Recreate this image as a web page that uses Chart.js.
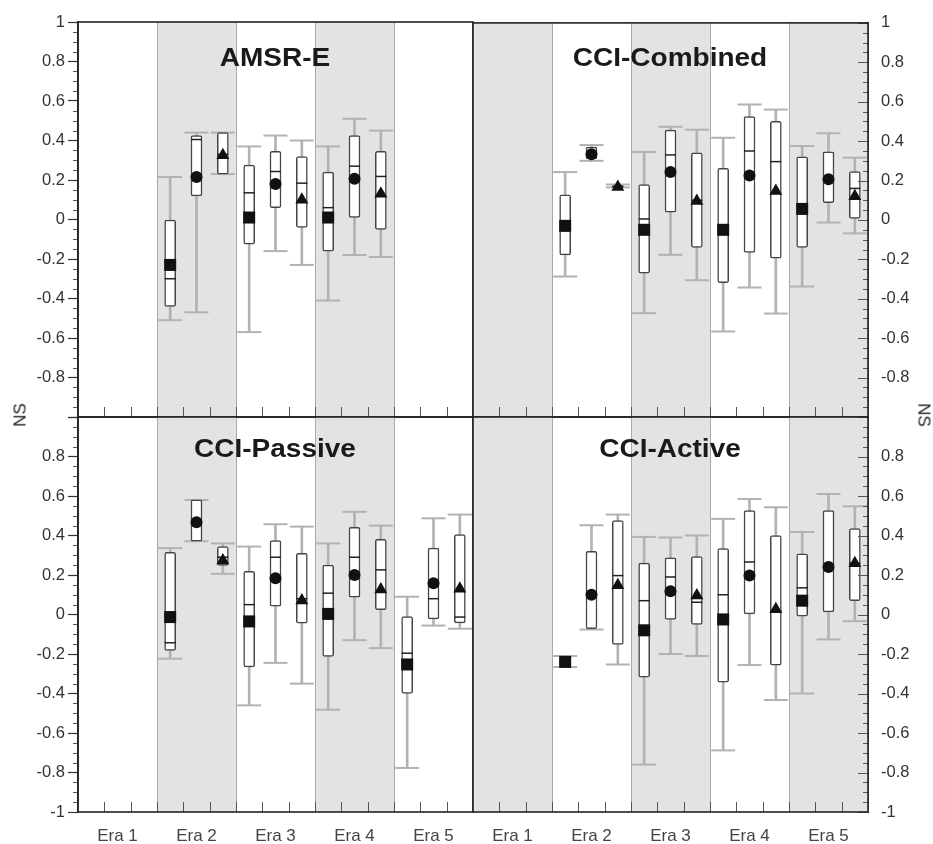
<!DOCTYPE html>
<html>
<head>
<meta charset="utf-8">
<script src="https://cdn.jsdelivr.net/npm/chart.js@4/dist/chart.umd.min.js"></script>
<style>
  html, body { margin: 0; padding: 0; background: #fff; }
  #wrap { position: relative; width: 933px; height: 844px; overflow: hidden; }
  canvas { position: absolute; left: 0; top: 0; }
  .title {
    position: absolute; white-space: nowrap; color: #1a1a1a;
    font: bold 25px "Liberation Sans", Arial, sans-serif; line-height: 25px;
    transform: translateX(-50%) scaleX(1.12);
  }
  .ns {
    position: absolute; white-space: nowrap; color: #222;
    font: 17px "Liberation Sans", Arial, sans-serif; line-height: 17px;
  }
</style>
</head>
<body>
<div id="wrap">
  <canvas id="c-amsr" width="933" height="844"></canvas>
  <canvas id="c-comb" width="933" height="844"></canvas>
  <canvas id="c-pass" width="933" height="844"></canvas>
  <canvas id="c-act" width="933" height="844"></canvas>
  <div class="title" style="left:275px;top:45px">AMSR-E</div>
  <div class="title" style="left:670px;top:45px">CCI-Combined</div>
  <div class="title" style="left:275px;top:436px">CCI-Passive</div>
  <div class="title" style="left:670px;top:436px">CCI-Active</div>
  <div class="ns" style="left:20px;top:415px;transform:translate(-50%,-50%) rotate(-90deg)">NS</div>
  <div class="ns" style="left:924px;top:415px;transform:translate(-50%,-50%) rotate(90deg)">NS</div>
</div>
<script>
// categories: 5 eras, 3 boxes (products) per era -> 15 slots per panel
const eraLabels = ['Era 1', 'Era 2', 'Era 3', 'Era 4', 'Era 5'];
const boxesPerEra = 3;
const n = null;

// AMSR-E
const amsrMin  = [n, n, n, -0.51, -0.47, 0.23, -0.57, -0.16, -0.23, -0.41, -0.18, -0.19, n, n, n];
const amsrQ1   = [n, n, n, -0.44, 0.12, 0.23, -0.125, 0.06, -0.04, -0.16, 0.01, -0.05, n, n, n];
const amsrMed  = [n, n, n, -0.30, 0.405, 0.33, 0.135, 0.243, 0.184, 0.06, 0.27, 0.218, n, n, n];
const amsrQ3   = [n, n, n, 0.0, 0.425, 0.44, 0.275, 0.345, 0.318, 0.24, 0.425, 0.345, n, n, n];
const amsrMax  = [n, n, n, 0.215, 0.44, 0.44, 0.37, 0.425, 0.40, 0.37, 0.51, 0.45, n, n, n];
const amsrMean = [n, n, n, -0.23, 0.215, 0.325, 0.01, 0.18, 0.10, 0.01, 0.206, 0.13, n, n, n];

// CCI-Combined
const combMin  = [n, n, n, -0.287, 0.30, 0.165, -0.473, -0.177, -0.306, -0.566, -0.343, -0.475, -0.338, -0.013, -0.068];
const combQ1   = [n, n, n, -0.177, 0.31, 0.165, -0.27, 0.04, -0.14, -0.318, -0.165, -0.194, -0.14, 0.088, 0.008];
const combMed  = [n, n, n, -0.03, 0.34, 0.17, 0.005, 0.33, 0.10, -0.05, 0.35, 0.296, 0.05, 0.21, 0.16];
const combQ3   = [n, n, n, 0.127, 0.37, 0.175, 0.18, 0.456, 0.34, 0.262, 0.525, 0.50, 0.32, 0.346, 0.245];
const combMax  = [n, n, n, 0.243, 0.38, 0.18, 0.345, 0.473, 0.458, 0.417, 0.586, 0.56, 0.375, 0.44, 0.316];
const combMean = [n, n, n, -0.03, 0.334, 0.167, -0.05, 0.243, 0.096, -0.05, 0.226, 0.147, 0.056, 0.206, 0.12];

// CCI-Passive
const passMin  = [n, n, n, -0.224, 0.371, 0.206, -0.46, -0.245, -0.35, -0.482, -0.13, -0.17, -0.777, -0.056, -0.072];
const passQ1   = [n, n, n, -0.182, 0.371, 0.248, -0.266, 0.042, -0.044, -0.212, 0.088, 0.024, -0.40, -0.022, -0.042];
const passMed  = [n, n, n, -0.143, 0.47, 0.29, 0.05, 0.29, 0.08, 0.108, 0.29, 0.226, -0.196, 0.08, -0.013];
const passQ3   = [n, n, n, 0.315, 0.58, 0.344, 0.218, 0.374, 0.31, 0.25, 0.442, 0.38, -0.01, 0.336, 0.405];
const passMax  = [n, n, n, 0.336, 0.58, 0.36, 0.344, 0.457, 0.445, 0.36, 0.52, 0.45, 0.09, 0.487, 0.506];
const passMean = [n, n, n, -0.013, 0.467, 0.273, -0.035, 0.184, 0.071, 0.003, 0.2, 0.126, -0.253, 0.158, 0.13];

// CCI-Active
const actMin  = [n, n, n, -0.266, -0.076, -0.253, -0.76, -0.2, -0.21, -0.688, -0.256, -0.433, -0.40, -0.126, -0.034];
const actQ1   = [n, n, n, -0.26, -0.072, -0.152, -0.317, -0.025, -0.05, -0.342, 0.003, -0.256, -0.008, 0.013, 0.07];
const actMed  = [n, n, n, -0.24, 0.10, 0.197, 0.07, 0.19, 0.062, 0.10, 0.266, 0.02, 0.135, 0.24, 0.26];
const actQ3   = [n, n, n, -0.22, 0.32, 0.476, 0.26, 0.287, 0.293, 0.334, 0.526, 0.40, 0.307, 0.526, 0.435];
const actMax  = [n, n, n, -0.21, 0.452, 0.506, 0.393, 0.39, 0.40, 0.484, 0.585, 0.543, 0.418, 0.61, 0.548];
const actMean = [n, n, n, -0.24, 0.10, 0.148, -0.08, 0.118, 0.096, -0.025, 0.197, 0.027, 0.07, 0.24, 0.26];

const FONT = '"Liberation Sans", Arial, sans-serif';
const WHISKER = '#b2b2b2';
const SHADE = '#e3e3e3';
const DIVIDER = '#a9a9a9';
const slots = eraLabels.length * boxesPerEra;
const boxX = Array.from({length: slots}, (_, i) => i + 0.5);
const markerStyles = ['rect', 'circle', 'triangle'];
const markerRadius = [8.5, 6, 7.5];

const pts = (ys, keep = () => true) =>
  boxX.map((x, i) => ({x, y: ys[i], i})).filter(p => p.y !== null && keep(p.i));
const ranges = (lo, hi) =>
  boxX.map((x, i) => ({x, y: [lo[i], hi[i]]})).filter(p => p.y[0] !== null);

const framePlugin = {
  id: 'frame',
  beforeDatasetsDraw(chart, args, o) {
    const {ctx, chartArea: a, scales: {x}} = chart;
    ctx.save();
    ctx.fillStyle = SHADE;
    o.shaded.forEach(e => {
      const x0 = x.getPixelForValue(e * boxesPerEra);
      const x1 = x.getPixelForValue((e + 1) * boxesPerEra);
      ctx.fillRect(x0, a.top, x1 - x0, a.bottom - a.top);
    });
    ctx.strokeStyle = DIVIDER;
    ctx.lineWidth = 1;
    for (let e = 1; e < eraLabels.length; e++) {
      const px = Math.round(x.getPixelForValue(e * boxesPerEra)) + 0.5;
      ctx.beginPath(); ctx.moveTo(px, a.top); ctx.lineTo(px, a.bottom); ctx.stroke();
    }
    ctx.restore();
  },
  afterDatasetsDraw(chart, args, o) {
    const {ctx, chartArea: a, scales: {x, y}} = chart;
    ctx.save();
    ctx.strokeStyle = '#555';
    ctx.lineWidth = 1;
    // inner tick marks along the bottom edge
    for (let v = 1; v < slots; v++) {
      const px = Math.round(x.getPixelForValue(v)) + 0.5;
      ctx.beginPath(); ctx.moveTo(px, a.bottom); ctx.lineTo(px, a.bottom - 10); ctx.stroke();
    }
    // minor y ticks every 0.05, inward major ticks on the right side
    for (let k = -20; k <= 20; k++) {
      const py = Math.round(y.getPixelForValue(k * 0.05)) + 0.5;
      const major = k % 4 === 0;
      ctx.beginPath();
      if (o.side === 'left') {
        if (major) continue;
        ctx.moveTo(a.left - 5, py); ctx.lineTo(a.left, py);
      } else {
        ctx.moveTo(a.right - (major ? 10 : 5), py); ctx.lineTo(a.right, py);
      }
      ctx.stroke();
    }
    // panel frame
    ctx.strokeStyle = '#222';
    ctx.lineWidth = 1.6;
    ctx.strokeRect(a.left, a.top, a.right - a.left, a.bottom - a.top);
    ctx.restore();
  }
};

function makePanel(id, p, d) {
  const fmt = v => Math.abs(v - p.hideTick) < 1e-6 ? '' : String(Math.round(v * 10) / 10);
  const datasets = [
    {type: 'bar', data: ranges(d.min, d.max), barThickness: 2, backgroundColor: WHISKER,
     borderWidth: 0, grouped: false, order: 5},
    {type: 'scatter', data: [...pts(d.min), ...pts(d.max)], pointStyle: 'line', pointRadius: 12,
     pointBorderColor: WHISKER, pointBorderWidth: 2, order: 4},
    {type: 'bar', data: ranges(d.q1, d.q3), barThickness: 11, backgroundColor: '#fff',
     borderColor: '#444', borderWidth: 1.5, borderSkipped: false, borderRadius: 2,
     grouped: false, order: 3},
    {type: 'scatter', data: pts(d.med), pointStyle: 'line', pointRadius: 5.5,
     pointBorderColor: '#222', pointBorderWidth: 1.5, order: 2}
  ];
  markerStyles.forEach((s, k) => {
    datasets.push({type: 'scatter', data: pts(d.mean, i => i % boxesPerEra === k),
      pointStyle: s, pointRadius: markerRadius[k], pointBackgroundColor: '#111',
      pointBorderColor: '#111', pointBorderWidth: 0, order: 1});
  });

  const left = p.side === 'left';
  new Chart(document.getElementById(id), {
    type: 'scatter',
    data: {datasets},
    plugins: [framePlugin],
    options: {
      responsive: false,
      animation: false,
      events: [],
      layout: {padding: p.pad},
      plugins: {
        legend: {display: false},
        tooltip: {enabled: false},
        frame: {shaded: p.shaded, side: p.side}
      },
      scales: {
        x: {
          type: 'linear', min: 0, max: slots, offset: false,
          display: p.showEras,
          afterBuildTicks: s => { s.ticks = eraLabels.map((_, e) => ({value: (e + 0.5) * boxesPerEra})); },
          afterFit: s => { s.height = p.showEras ? 32 : 0; },
          ticks: {callback: (v, i) => eraLabels[i], autoSkip: false, maxRotation: 0,
                  font: {family: FONT, size: 17}, color: '#444', padding: 6},
          grid: {display: false},
          border: {display: false}
        },
        y: {
          type: 'linear', position: p.side, min: -1, max: 1,
          afterFit: s => { s.width = left ? 78 : 65; },
          ticks: {stepSize: 0.2, callback: fmt, font: {family: FONT, size: 16.5}, color: '#333',
                  padding: left ? 3 : 13},
          grid: {drawOnChartArea: false, drawTicks: left, tickLength: 10, tickColor: '#333', tickWidth: 1.2},
          border: {display: true, color: '#222', width: 1.6}
        }
      }
    }
  });
}

makePanel('c-amsr', {side: 'left', shaded: [1, 3], showEras: false, hideTick: -1,
  pad: {left: 0, right: 460, top: 22, bottom: 427}},
  {min: amsrMin, q1: amsrQ1, med: amsrMed, q3: amsrQ3, max: amsrMax, mean: amsrMean});
makePanel('c-comb', {side: 'right', shaded: [0, 2, 4], showEras: false, hideTick: -1,
  pad: {left: 473, right: 0, top: 22, bottom: 427}},
  {min: combMin, q1: combQ1, med: combMed, q3: combQ3, max: combMax, mean: combMean});
makePanel('c-pass', {side: 'left', shaded: [1, 3], showEras: true, hideTick: 1,
  pad: {left: 0, right: 460, top: 417, bottom: 0}},
  {min: passMin, q1: passQ1, med: passMed, q3: passQ3, max: passMax, mean: passMean});
makePanel('c-act', {side: 'right', shaded: [0, 2, 4], showEras: true, hideTick: 1,
  pad: {left: 473, right: 0, top: 417, bottom: 0}},
  {min: actMin, q1: actQ1, med: actMed, q3: actQ3, max: actMax, mean: actMean});
</script>
</body>
</html>
